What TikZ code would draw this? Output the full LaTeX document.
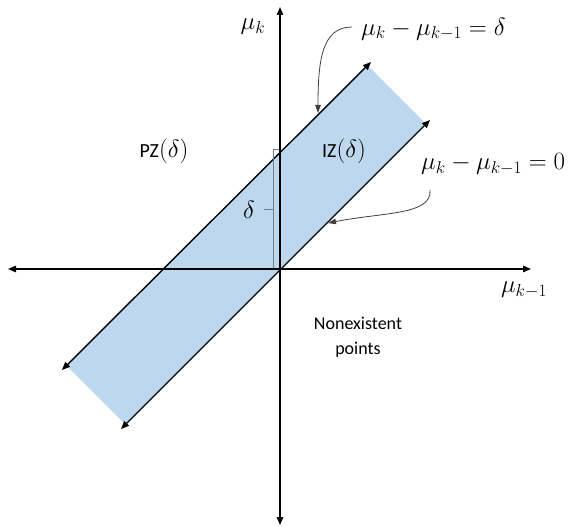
\documentclass[tikz,border=0pt]{standalone}
\usepackage{fontspec}
\setmainfont{Carlito}
\usetikzlibrary{arrows.meta}
\definecolor{zone}{HTML}{BDD7EE}
\definecolor{brk}{HTML}{6F7F8F}
\begin{document}
\begin{tikzpicture}[x=1pt,y=-1pt,
 axis/.style={line width=1.4pt, {Triangle[length=8pt,width=6.5pt]}-{Triangle[length=8pt,width=6.5pt]}},
 callout/.style={line width=0.8pt, draw=black!75, -{Triangle[length=8pt,width=5.5pt]}},
 lbl/.style={font=\fontsize{18}{25}\selectfont, inner sep=0pt},
 zlbl/.style={font=\fontsize{20}{25}\selectfont, inner sep=0pt},
 mth/.style={font=\fontsize{23}{28}\selectfont, inner sep=0pt}]
\useasboundingbox (0,0) rectangle (568,527);
\fill[zone] (367,65) -- (425.5,123.5) -- (125,424) -- (66.5,365.5) -- cycle;
\coordinate (xl) at (8,269); \coordinate (xr) at (531,269);
\coordinate (yt) at (280,7); \coordinate (yb) at (280,525);
\coordinate (ua) at (62,370); \coordinate (ub) at (371,62);
\coordinate (la) at (121,429); \coordinate (lb) at (430,120);
\draw[axis] (xl) -- (xr);
\draw[axis] (yb) -- (yt);
\draw[axis] (ua) -- (ub);
\draw[axis] (la) -- (lb);
\coordinate (b1) at (279,149); \coordinate (b2) at (273,149);
\coordinate (b3) at (273,268); \coordinate (bm) at (273,209); \coordinate (bt) at (264,209);
\draw[brk, line width=1pt] (b1) -- (b2) -- (b3);
\draw[brk, line width=1pt] (bm) -- (bt);
\node[mth] (muk) at (253,27) {$\mu_k$};
\node[mth, anchor=west] (eqd) at (361,29) {$\mu_k-\mu_{k-1}=\delta$};
\node[mth, anchor=west] (eq0) at (421,164) {$\mu_k-\mu_{k-1}=0$};
\node[mth] (mukm) at (524,290) {$\mu_{k-1}$};
\node[zlbl] (pz) at (164,151) {PZ{\fontsize{24}{28}\selectfont$(\delta)$}};
\node[zlbl] (iz) at (344,151) {IZ{\fontsize{24}{28}\selectfont$(\delta)$}};
\node[lbl, align=center] (ne) at (358,337) {Nonexistent\\points};
\node[mth] (dl) at (249,210) {$\delta$};
\coordinate (t1) at (318,113);
\coordinate (c1) at (352,27);
\draw[callout] (c1) .. controls (322,27) and (318,60) .. (t1);
\coordinate (c2) at (430,190);
\coordinate (t2) at (328,223);
\draw[callout] (c2) .. controls (432,215) and (385,212) .. (t2);
\end{tikzpicture}
\end{document}
